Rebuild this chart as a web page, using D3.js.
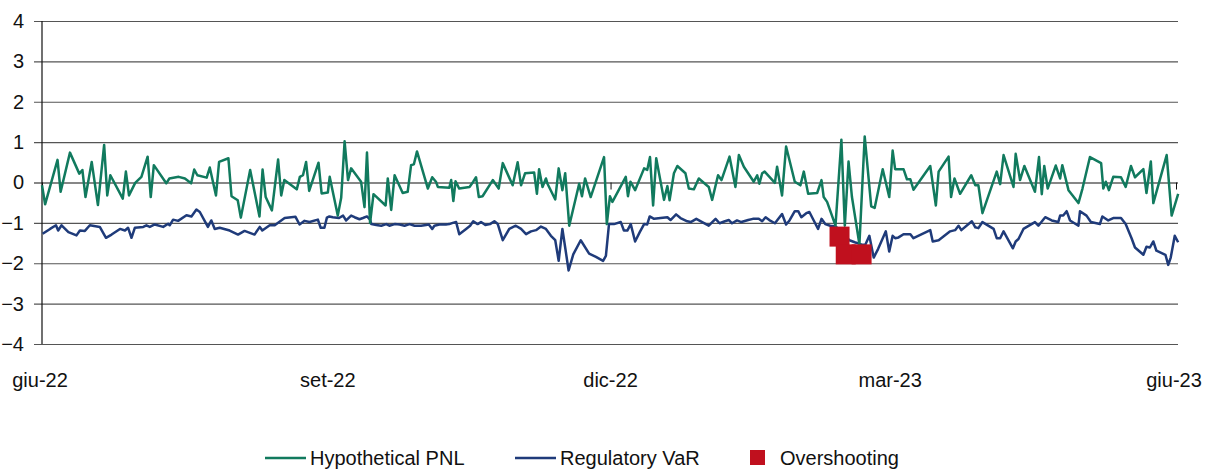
<!DOCTYPE html>
<html>
<head>
<meta charset="utf-8">
<script src="https://cdn.jsdelivr.net/npm/d3@7"></script>
<style>
  body { margin: 0; background: #fff; }
  svg { display: block; font-family: "Liberation Sans", Arial, sans-serif; }
</style>
</head>
<body>
<svg id="chart"></svg>
<script>
// Days counted from 1 Jun 2022
const pnlDay = [0,1,5,6,9,12,13,14,16,18,20,21,22,26,27,28,30,32,34,35,36,40,41,44,46,48,49,50,53,54,56,57,60,61,63,64,67,70,71,72,74,76,77,78,82,83,84,85,86,89,90,92,92.6,
  93.6,95.2,96.3,97.4,98.5,99.5,102.7,103.8,104.6,105.6,106.7,110.6,111.3,112.4,113.5,116.1,117.7,118.8,119.7,120.7,124.2,125.6,126.8,127.4,131.1,131.7,132.4,133.1,134.3,137.6,138.8,139.7,140.6,141.8,145.1,147,148.3,151.5,153.1,154.2,155.5,158.4,159.3,160,161.1,162.2,162.7,165.2,166.3,167.5,168.4,169.7,172.9,173.8,174.8,176.6,180.9,181.8,182.8,183.6,187.9,188.6,189.4,
  190.9,193.8,194.8,195.7,196.7,197.7,200.2,201.3,202,203.4,204.5,207.1,208.2,209.8,211.4,214.6,215.7,217.6,218.7,221.3,223.2,224.3,225.9,229.1,230.2,230.9,231.8,232.6,235.9,236.6,238.2,239.5,242.3,244.1,245.2,246.6,249.5,250.9,251.6,252.7,255.4,257.3,258.4,259.6,260.7,263.1,264.8,266.9,268,270.6,272.7,273.8,274.6,275.7,
  277.3,278.4,279.5,280.5,285.9,287.7,288.6,291.8,292.6,293.7,295.5,299.1,300.4,301.4,302.7,307.3,308.4,309.5,312.7,313.4,314.8,316.2,319.6,320.9,321.8,322.6,323.7,326.3,327.7,328.4,330.4,333.6,334.9,337.3,340.9,341.6,342.4,343.4,344.8,347.3,348.8,350.5,351.8,354.5,355.5,356.9,357.7,362,363.6,365.7];
const pnlVal = [-0.07,-0.54,0.56,-0.23,0.74,0.22,0.31,-0.36,0.51,-0.56,0.93,-0.32,0.18,-0.40,0.27,-0.32,-0.01,0.14,0.64,-0.36,0.43,-0.02,0.10,0.14,0.10,-0.02,0.32,0.18,0.12,0.37,-0.32,0.51,0.60,-0.34,-0.44,-0.87,0.31,-0.84,0.32,-0.36,-0.69,0.57,-0.32,0.06,-0.17,0.14,0.18,0.51,-0.21,0.49,-0.27,-0.25,0.14,
  -0.23,-0.82,-0.38,1.02,0.06,0.35,0.02,-0.61,0.74,-1.00,-0.29,-0.57,0.10,-0.68,0.18,-0.26,-0.23,0.43,0.45,0.77,-0.15,0.13,0.02,-0.11,-0.13,0.06,-0.46,0.03,-0.15,-0.11,0.02,0.13,-0.36,-0.34,0.06,-0.15,0.48,-0.07,0.50,-0.07,0.23,0.25,-0.28,0.33,-0.11,0.10,-0.03,-0.42,0.35,-0.19,0.23,-1.07,-0.03,-0.34,0.10,-0.36,0.63,-1.03,-0.34,-0.48,0.14,-0.34,0.02,
  -0.19,0.35,0.31,0.63,-0.57,0.60,-0.43,-0.09,-0.44,0.23,0.41,0.23,-0.15,-0.17,0.10,-0.11,-0.43,0.18,0.06,0.64,-0.11,0.68,0.39,0.02,0.18,-0.03,0.23,0.27,-0.01,0.39,-0.32,0.89,0.02,-0.07,0.27,-0.28,-0.26,0.06,-0.36,-0.48,-1.07,1.06,-1.07,0.52,-0.36,-1.53,1.14,-0.59,-0.63,0.33,-0.36,0.79,0.33,0.33,
  0.33,0.08,0.08,-0.18,0.41,-0.57,0.27,0.64,-0.36,0.10,-0.28,0.18,-0.07,-0.07,-0.76,0.27,-0.04,0.68,-0.11,0.71,0.06,0.41,-0.23,0.63,-0.29,0.41,-0.15,0.42,0.10,0.43,-0.19,-0.51,-0.15,0.63,0.48,-0.15,0.02,-0.19,0.14,0.13,-0.11,0.41,0.13,0.33,-0.26,0.52,-0.51,0.68,-0.82,-0.28];

const varDay = [0.2,2.6,4.5,5.2,6.3,8.5,11.1,12.2,13.8,15.4,18.6,20.6,22.4,25.1,26.7,27.7,28.8,29.9,32.6,33.6,34.7,36.3,39.0,40.6,41.1,42.2,43.8,46.5,48.1,49.7,50.8,53.4,54.5,55.6,57.2,60.4,63.1,65.2,68.4,70.1,70.9,73.3,74.9,78.1,81.6,82.9,84.5,86.1,88.8,89.7,90.9,91.7,92.5,
  93.6,95.6,96.9,97.9,99.5,100.6,102.2,103.3,104.6,105.6,106,107.6,109.2,110.8,111.8,113.5,115.1,116.7,118.3,119.9,122,123.6,124.5,125.6,126.3,127.9,130,131.1,132.2,133.3,134.3,136.5,137.8,138.8,140.2,141.3,142.7,144.2,145.6,146.7,148.3,150.4,152.5,154.2,155.8,157.4,159,160.6,162.2,163.8,165.2,166.3,167.5,168.4,169.5,171,173.4,176.1,178.3,180.6,181.5,182.5,184.1,186.3,187.3,188.4,189.5,
  190.9,192.4,193.8,194.8,195.6,197,199.1,201.3,202.3,204.1,205.5,207.7,208.8,210.6,212.5,214.6,216.8,218.1,219.8,221.1,222.1,223.7,225.1,227.3,228.8,230.7,231.8,232.9,234.1,235.9,238.2,239.5,240.6,242.3,243.4,244.4,246,247,248.4,249.8,250.9,252.1,253.7,255.4,257,258.6,259.9,261.6,263.9,265,266.3,267.7,269.1,271.6,272.7,273.8,274.6,275.7,
  277.3,279.5,280.5,285.9,286.7,288.6,292.3,293.9,295,295.9,299.3,300.4,301.4,302.7,306.3,307.3,308.4,309.5,312.5,313.4,314.3,315.9,319.6,320.7,322.9,325,327.1,327.7,328.7,329.8,330.9,333.6,334.1,336.2,337.6,340.5,341.3,343.2,344.8,347.3,348.8,350.7,351.8,354.5,355.5,356.6,357.7,358.7,361.6,362.5,363.3,364.6,365.7];
const varVal = [-1.27,-1.15,-1.06,-1.19,-1.06,-1.23,-1.31,-1.19,-1.20,-1.06,-1.10,-1.37,-1.29,-1.15,-1.19,-1.12,-1.37,-1.12,-1.10,-1.06,-1.10,-1.04,-1.10,-1.02,-1.06,-0.92,-0.95,-0.81,-0.84,-0.67,-0.73,-1.10,-0.94,-1.15,-1.12,-1.19,-1.29,-1.20,-1.29,-1.10,-1.19,-1.06,-1.06,-0.88,-0.85,-1.04,-0.95,-0.98,-0.92,-1.12,-1.12,-0.87,-0.84,
  -0.86,-0.88,-0.82,-0.94,-0.82,-0.86,-0.91,-0.88,-0.84,-0.92,-1.03,-1.05,-1.07,-1.03,-1.07,-1.03,-1.04,-1.07,-1.03,-1.07,-1.07,-1.05,-1.04,-1.15,-1.07,-1.04,-1.04,-1.03,-1.00,-0.98,-1.28,-1.15,-1.07,-0.96,-1.03,-0.98,-1.05,-1.03,-0.96,-1.03,-1.43,-1.15,-1.07,-1.15,-1.28,-1.21,-1.18,-1.09,-1.15,-1.32,-1.43,-1.94,-1.15,-1.61,-2.18,-1.78,-1.43,-1.76,-1.84,-1.94,-1.82,-1.03,-1.03,-0.98,-1.19,-1.19,-1.03,
  -1.46,-1.23,-1.03,-1.04,-0.84,-0.90,-0.88,-0.86,-0.93,-0.79,-0.88,-0.96,-0.98,-0.90,-0.98,-1.07,-0.90,-1.01,-0.96,-0.93,-1.01,-0.94,-0.98,-0.93,-0.90,-0.90,-0.96,-0.86,-0.93,-1.01,-0.78,-1.04,-0.94,-0.71,-0.71,-0.86,-0.76,-0.73,-0.94,-1.15,-0.90,-1.03,-1.07,-1.09,-1.19,-1.32,-1.43,-1.48,-1.54,-1.54,-1.32,-1.86,-1.65,-1.21,-1.71,-1.32,-1.38,-1.36,
  -1.28,-1.28,-1.38,-1.18,-1.46,-1.43,-1.21,-1.18,-1.07,-1.18,-0.96,-1.11,-1.13,-0.98,-1.15,-1.38,-1.38,-1.21,-1.63,-1.46,-1.40,-1.15,-0.98,-1.07,-0.86,-0.94,-0.98,-0.82,-0.82,-0.71,-0.94,-1.07,-0.71,-0.82,-0.98,-1.03,-0.84,-0.94,-0.88,-0.88,-1.03,-1.38,-1.61,-1.79,-1.59,-1.61,-1.46,-1.69,-1.79,-2.04,-1.86,-1.32,-1.48];

const overDay = [256.7, 258.7, 263.8];
const overVal = [-1.34, -1.78, -1.78];

const yTicks = [4, 3, 2, 1, 0, -1, -2, -3, -4];
const monthLabels = ["giu-22", "set-22", "dic-22", "mar-23", "giu-23"];
const legendNames = ["Hypothetical PNL", "Regulatory VaR", "Overshooting"];

const colPnl = "#117a5e", colVar = "#1f3b7a", colOver = "#c0101e";

const W = 1208, H = 470;
const margin = {top: 21, right: 30, bottom: 126, left: 42};
const width = W - margin.left - margin.right,
      height = H - margin.top - margin.bottom;

const start = new Date(2022, 5, 1);
const toDate = d => new Date(start.getTime() + d * 864e5);
const tickDates = [new Date(2022,5,1), new Date(2022,8,1), new Date(2022,11,1), new Date(2023,2,1), new Date(2023,5,1)];

const x = d3.scaleTime().domain([start, new Date(2023, 5, 1)]).range([0, width - 2]);
const y = d3.scaleLinear().domain([-4, 4]).range([height, 0]);

const svg = d3.select("#chart").attr("width", W).attr("height", H);
const g = svg.append("g").attr("transform", "translate(" + margin.left + "," + margin.top + ")");

// grid + y axis
const yAxis = d3.axisLeft(y).tickValues(yTicks).tickSize(width + 8).tickFormat(d3.format("d"));
g.append("g")
  .attr("class", "y axis")
  .attr("transform", "translate(" + width + ",0)")
  .call(yAxis)
  .call(a => a.select(".domain").remove())
  .call(a => a.selectAll(".tick line").attr("stroke", d => d === 0 ? "#111" : "#555").attr("stroke-width", 1.2))
  .call(a => a.selectAll(".tick text").attr("x", -width - 18).attr("font-size", 20).attr("fill", "#111"));

g.append("line").attr("x1", 0).attr("x2", 0).attr("y1", 0).attr("y2", height)
  .attr("stroke", "#111").attr("stroke-width", 1.2);

// x axis ticks on zero line
g.append("g")
  .attr("transform", "translate(0," + y(0) + ")")
  .call(d3.axisBottom(x).tickValues(tickDates).tickSize(7).tickFormat(""))
  .call(a => a.select(".domain").remove())
  .call(a => a.selectAll(".tick line").attr("stroke", "#111"));

// month labels at bottom
g.append("g").selectAll("text")
  .data(tickDates)
  .join("text")
  .attr("x", (d, i) => x(d) + (i === 0 ? -2 : i === 4 ? -2 : 0))
  .attr("y", height + 43)
  .attr("text-anchor", "middle")
  .attr("font-size", 20)
  .attr("fill", "#111")
  .text((d, i) => monthLabels[i]);

const line = d3.line().x(d => x(toDate(d[0]))).y(d => y(d[1]));

g.append("path")
  .datum(varDay.map((d, i) => [d, varVal[i]]))
  .attr("fill", "none").attr("stroke", colVar).attr("stroke-width", 2.5)
  .attr("stroke-linejoin", "round")
  .attr("d", line);

g.append("path")
  .datum(pnlDay.map((d, i) => [d, pnlVal[i]]))
  .attr("fill", "none").attr("stroke", colPnl).attr("stroke-width", 2.5)
  .attr("stroke-linejoin", "round")
  .attr("d", line);

g.selectAll("rect.over")
  .data(overDay.map((d, i) => [d, overVal[i]]))
  .join("rect")
  .attr("class", "over")
  .attr("x", d => x(toDate(d[0])) - 10)
  .attr("y", d => y(d[1]) - 10)
  .attr("width", 20).attr("height", 20)
  .attr("fill", colOver);

// legend
const leg = svg.append("g").attr("transform", "translate(0,458)");
const legItems = [
  {x: 265, type: "line", color: colPnl},
  {x: 515, type: "line", color: colVar},
  {x: 750, type: "rect", color: colOver}
];
legItems.forEach((it, i) => {
  if (it.type === "line") {
    leg.append("line").attr("x1", it.x).attr("x2", it.x + 41).attr("y1", 0).attr("y2", 0)
      .attr("stroke", it.color).attr("stroke-width", 2.5);
    leg.append("text").attr("x", it.x + 45).attr("y", 7).attr("font-size", 20).attr("fill", "#111").text(legendNames[i]);
  } else {
    leg.append("rect").attr("x", it.x).attr("y", -8).attr("width", 15).attr("height", 15).attr("fill", it.color);
    leg.append("text").attr("x", it.x + 30).attr("y", 7).attr("font-size", 20).attr("fill", "#111").text(legendNames[i]);
  }
});
</script>
</body>
</html>
